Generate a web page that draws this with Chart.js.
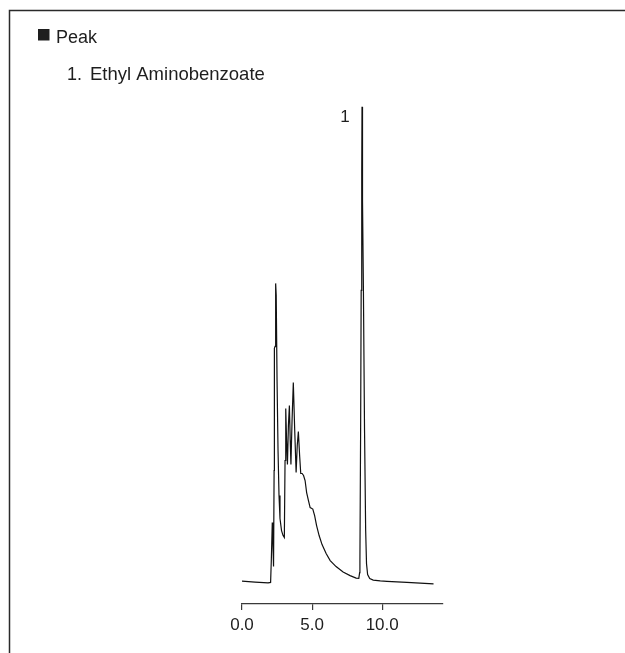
<!DOCTYPE html>
<html>
<head>
<meta charset="utf-8">
<script src="https://cdn.jsdelivr.net/npm/chart.js@4.4.1/dist/chart.umd.min.js"></script>
<style>
  html, body { margin: 0; padding: 0; background: #ffffff; }
  #wrap { position: relative; width: 625px; height: 653px; }
  canvas { display: block; }
</style>
</head>
<body>
<div id="wrap"><canvas id="c" width="625" height="653"></canvas></div>
<script>
// Retention time (min)
const retentionTimes = [
  0.00, 0.93, 1.86, 2.04, 2.09, 2.16, 2.20, 2.25, 2.29, 2.31, 2.36, 2.39, 2.41, 2.44, 2.50,
  2.57, 2.64, 2.71, 2.82, 2.93, 3.02, 3.07, 3.12, 3.18, 3.24, 3.31, 3.38, 3.44, 3.49, 3.57,
  3.66, 3.76, 3.86, 3.94, 4.02, 4.11, 4.19, 4.29, 4.39, 4.50, 4.61, 4.74, 4.86, 5.05, 5.18,
  5.32, 5.50, 5.71, 6.00, 6.29, 6.71, 7.21, 7.71, 8.14, 8.33, 8.39, 8.41, 8.46, 8.50, 8.54,
  8.56, 8.58, 8.61, 8.66, 8.74, 8.82, 8.88, 8.96, 9.11, 9.36, 9.86, 10.34, 11.76, 12.71, 13.66
];
// Detector signal (relative response)
const signal = [
  0.0, -0.21, -0.36, -0.27, 4.32, 12.34, 8.54, 3.06, 23.31, 49.05, 49.47, 59.18, 62.76, 60.23, 42.30,
  27.53, 18.04, 13.19, 10.65, 9.60, 9.18, 25.42, 36.39, 29.64, 24.58, 32.81, 37.03, 29.64, 24.58, 33.86,
  41.88, 31.75, 22.89, 28.59, 31.54, 26.48, 22.68, 22.68, 22.26, 21.20, 18.67, 16.98, 15.51, 15.19, 13.82,
  11.71, 9.60, 7.70, 5.80, 4.32, 3.06, 1.90, 1.16, 0.63, 0.57, 1.79, 4.32, 31.75, 61.29, 86.60,
  100.0, 99.7, 80.27, 61.29, 31.75, 10.65, 3.69, 1.37, 0.53, 0.21, 0.04, -0.04, -0.25, -0.42, -0.59
];
// X axis ticks
const tickValues = [0, 5, 10];
const tickLabels = ['0.0', '5.0', '10.0'];
// Peak annotations
const peakNumbers = ['1'];
const peakTimes = [8.56];
const peakHeights = [100.0];
// Legend text
const legendTitle = 'Peak';
const peakNames = ['Ethyl Aminobenzoate'];

const FONT = '"Liberation Sans", Arial, Helvetica, sans-serif';
const INK = '#1e1e1e';

const decorPlugin = {
  id: 'decor',
  beforeDraw(chart) {
    const ctx = chart.ctx;
    ctx.save();
    ctx.fillStyle = '#ffffff';
    ctx.fillRect(0, 0, chart.width, chart.height);
    // frame (top and left edges)
    ctx.strokeStyle = '#2a2a2a';
    ctx.lineWidth = 1.5;
    ctx.beginPath();
    ctx.moveTo(9.5, 653);
    ctx.lineTo(9.5, 10.5);
    ctx.lineTo(625, 10.5);
    ctx.stroke();
    // legend
    ctx.fillStyle = INK;
    ctx.fillRect(38, 29, 11.5, 11.5);
    ctx.font = '18px ' + FONT;
    ctx.textBaseline = 'alphabetic';
    ctx.textAlign = 'left';
    ctx.fillText(legendTitle, 56, 42.5);
    peakNames.forEach((name, i) => {
      ctx.font = '18px ' + FONT;
      ctx.fillText(peakNumbers[i] + '.', 67, 80 + i * 24);
      ctx.font = '18.5px ' + FONT;
      ctx.fillText(name, 90, 80 + i * 24);
    });
    ctx.restore();
  },
  afterDatasetsDraw(chart) {
    const ctx = chart.ctx;
    const xs = chart.scales.x, ys = chart.scales.y;
    ctx.save();
    ctx.fillStyle = INK;
    ctx.font = '17px ' + FONT;
    ctx.textAlign = 'right';
    ctx.textBaseline = 'alphabetic';
    peakNumbers.forEach((lab, i) => {
      const px = xs.getPixelForValue(peakTimes[i]);
      const py = ys.getPixelForValue(peakHeights[i]);
      ctx.fillText(lab, px - 12.3, py + 15);
    });
    ctx.restore();
  }
};

const points = retentionTimes.map((t, i) => ({ x: t, y: signal[i] }));

new Chart(document.getElementById('c'), {
  type: 'line',
  data: {
    datasets: [{
      label: 'Chromatogram',
      data: points,
      borderColor: '#111111',
      borderWidth: 1.2,
      pointRadius: 0,
      tension: 0,
      fill: false
    }]
  },
  options: {
    responsive: false,
    animation: false,
    devicePixelRatio: 1,
    layout: { padding: { left: 242, right: 182.5, top: 102, bottom: 12.5 } },
    plugins: { legend: { display: false }, tooltip: { enabled: false }, title: { display: false } },
    scales: {
      x: {
        type: 'linear',
        min: 0,
        max: 14.3,
        afterBuildTicks(scale) { scale.ticks = tickValues.map(v => ({ value: v })); },
        ticks: {
          color: INK,
          font: { family: FONT, size: 17 },
          padding: 5,
          maxRotation: 0,
          autoSkip: false,
          callback(value) { const k = tickValues.indexOf(value); return k >= 0 ? tickLabels[k] : ''; }
        },
        grid: { drawOnChartArea: false, drawTicks: true, tickLength: 7, color: '#3a3a3a', lineWidth: 1.2 },
        border: { display: true, color: '#3a3a3a', width: 1.2 }
      },
      y: {
        display: false,
        min: -4.64,
        max: 101
      }
    }
  },
  plugins: [decorPlugin]
});
</script>
</body>
</html>
